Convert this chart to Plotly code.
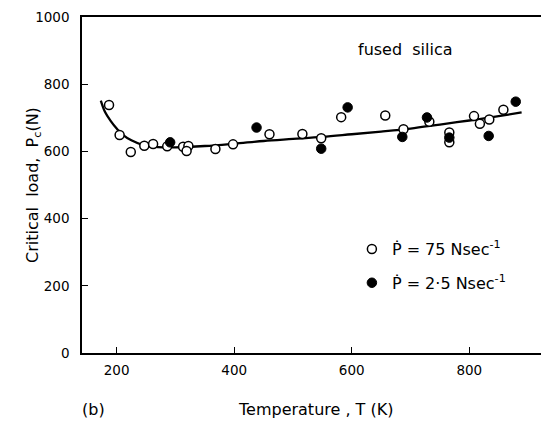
import plotly.graph_objects as go

# ---- data ----
open_T = [187, 205, 224, 247, 262, 286, 313, 322, 319, 368, 398, 460, 516, 548, 582, 657, 688, 732, 766, 766, 808, 818, 834, 858]
open_P = [738, 649, 598, 617, 622, 615, 614, 616, 601, 607, 621, 651, 652, 639, 702, 707, 666, 688, 656, 627, 705, 682, 695, 724]
filled_T = [291, 438, 548, 593, 686, 728, 766, 833, 879]
filled_P = [627, 671, 608, 731, 643, 701, 641, 646, 748]
curve_T = [173, 180, 190, 200, 210, 225, 245, 270, 300, 350, 400, 450, 500, 550, 600, 650, 700, 750, 800, 850, 889]
curve_P = [751, 718, 690, 668, 650, 633, 619, 613, 612, 616, 623, 631, 637, 643, 651, 659, 668, 680, 692, 705, 716]
x_ticks = [200, 400, 600, 800]
y_ticks = [0, 200, 400, 600, 800, 1000]
open_label = "Ṗ = 75 Nsec<sup>-1</sup>"
filled_label = "Ṗ = 2·5 Nsec<sup>-1</sup>"

FONT = "DejaVu Sans"
TS = 16

fig = go.Figure()
fig.add_trace(go.Scatter(x=curve_T, y=curve_P, mode="lines", line=dict(color="black", width=2.3, shape="spline"),
                         showlegend=False, hoverinfo="skip"))
fig.add_trace(go.Scatter(x=open_T, y=open_P, mode="markers", name=open_label,
                         marker=dict(symbol="circle", size=9, color="white", line=dict(color="black", width=1.5)),
                         legendgroup="a"))
fig.add_trace(go.Scatter(x=filled_T, y=filled_P, mode="markers", name=filled_label,
                         marker=dict(symbol="circle", size=9.5, color="black", line=dict(color="black", width=1)),
                         legendgroup="b"))

fig.update_layout(
    width=541, height=426,
    margin=dict(l=82, r=0, t=17, b=73),
    paper_bgcolor="white", plot_bgcolor="white",
    font=dict(family=FONT, size=13, color="black"),
    xaxis=dict(range=[141, 922], tickvals=x_ticks, ticks="inside", ticklen=6, tickwidth=1, tickcolor="black",
               showline=True, linecolor="black", linewidth=1.5, mirror=True, showgrid=False, zeroline=False,
               ticklabelstandoff=4, tickfont=dict(size=13.5)),
    yaxis=dict(range=[0, 1000], tickvals=y_ticks, ticks="inside", ticklen=6, tickwidth=1, tickcolor="black",
               showline=True, linecolor="black", linewidth=1.5, showgrid=False, zeroline=False,
               ticklabelstandoff=8, tickfont=dict(size=13.5)),
    legend=dict(x=0.588, y=0.36, xanchor="left", yanchor="top", bgcolor="rgba(0,0,0,0)",
                font=dict(family=FONT, size=TS), tracegroupgap=10, itemwidth=30),
    showlegend=True,
    annotations=[
        dict(text="fused  silica", x=(356 - 82) / 459, y=(353 - 49) / 336, xref="paper", yref="paper",
             xanchor="left", yanchor="middle", showarrow=False, font=dict(family=FONT, size=TS)),
        dict(text="Temperature , T (K)", x=(315 - 82) / 459, y=(353 - 409) / 336, xref="paper", yref="paper",
             xanchor="center", yanchor="middle", showarrow=False, font=dict(family=FONT, size=TS)),
        dict(text="(b)", x=(93 - 82) / 459, y=(353 - 409) / 336, xref="paper", yref="paper",
             xanchor="center", yanchor="middle", showarrow=False, font=dict(family=FONT, size=TS)),
        dict(text="Critical  load,  P<sub>c</sub>(N)", x=(33 - 82) / 459, y=0.5, xref="paper", yref="paper",
             xanchor="center", yanchor="middle", textangle=-90, showarrow=False, font=dict(family=FONT, size=TS)),
    ],
)

fig.write_html("out.html")
